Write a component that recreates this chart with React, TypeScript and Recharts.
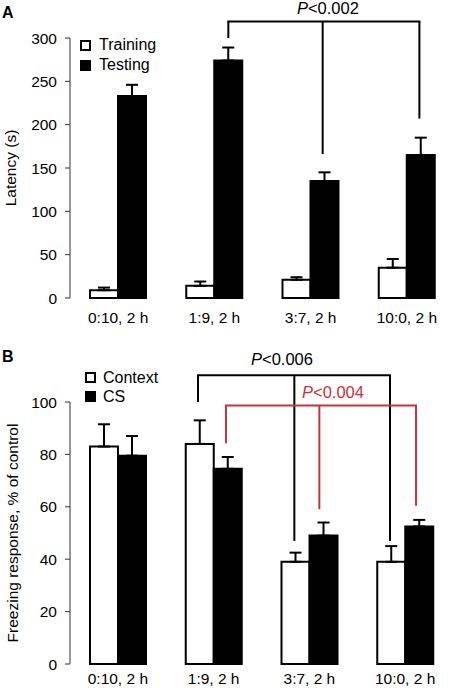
import React from 'react';
import { BarChart, Bar, XAxis, YAxis, ErrorBar, ReferenceLine, Legend } from 'recharts';

const categories = ['0:10, 2 h', '1:9, 2 h', '3:7, 2 h', '10:0, 2 h'];
const trainingValues = [9, 14, 21, 35];
const trainingErrors = [3, 5, 3, 10];
const testingValues = [233, 274, 135, 165];
const testingErrors = [13, 15, 10, 20];
const latencyTicks = [0, 50, 100, 150, 200, 250, 300];

const contextValues = [83, 84, 39, 39];
const contextErrors = [8.5, 9, 3.5, 6];
const csValues = [79.5, 74.5, 49, 52.5];
const csErrors = [7.5, 4.5, 5, 2.5];
const freezingTicks = [0, 20, 40, 60, 80, 100];

const boundaryTicks = [0, 1, 2, 3, 4];

// significance brackets, x in category units (index + fraction of band)
const bracketA = { xs: [1.645, 2.625, 3.63], ends: [300, 166, 207], y: 319, text: '<0.002', dx: 4, dy: -8, color: '#000' };
const bracketB1 = { xs: [1.337, 2.343, 3.342], ends: [100, 47, 47], y: 110.2, text: '<0.006', dx: -12, dy: -10, color: '#000' };
const bracketB2 = { xs: [1.629, 2.604, 3.614], ends: [84.2, 59.1, 60.4], y: 98.7, text: '<0.004', dx: 12, dy: -7, color: '#c8323c' };

const legendOrderA = ['Training', 'Testing'];
const legendOrderB = ['Context', 'CS'];

const FONT = '"Liberation Sans", Arial, Helvetica, sans-serif';

const dataA = categories.map((name, i) => ({
  name,
  pos: i + 0.5,
  training: trainingValues[i],
  trainingErr: [0, trainingErrors[i]],
  testing: testingValues[i],
  testingErr: [0, testingErrors[i]],
}));

const dataB = categories.map((name, i) => ({
  name,
  pos: i + 0.5,
  context: contextValues[i],
  contextErr: [0, contextErrors[i]],
  cs: csValues[i],
  csErr: [0, csErrors[i]],
}));

type Bracket = typeof bracketA;

const pLabel = (b: Bracket) => (props: any) => {
  const vb = props.viewBox || { x: 0, y: 0, width: 0 };
  return (
    <text
      x={vb.x + vb.width / 2 + b.dx}
      y={vb.y + b.dy}
      textAnchor="middle"
      fontSize={16.5}
      fill={b.color}
      fontFamily={FONT}
    >
      <tspan fontStyle="italic">P</tspan>
      {b.text}
    </text>
  );
};

const renderBracket = (b: Bracket, key: string) => {
  const first = b.xs[0];
  const last = b.xs[b.xs.length - 1];
  const items = [
    <ReferenceLine
      key={key + '-h'}
      xAxisId="n"
      ifOverflow="visible"
      segment={[{ x: first, y: b.y }, { x: last, y: b.y }]}
      stroke={b.color}
      strokeWidth={2}
      strokeLinecap="square"
      label={pLabel(b)}
    />,
  ];
  b.xs.forEach((x, i) => {
    items.push(
      <ReferenceLine
        key={key + '-v' + i}
        xAxisId="n"
        ifOverflow="visible"
        segment={[{ x, y: b.y }, { x, y: b.ends[i] }]}
        stroke={b.color}
        strokeWidth={2}
      />
    );
  });
  return items;
};

const legendContent = (order: string[], gap: number, rowH: number) => (props: any) => {
  const payload = [...(props.payload || [])].sort(
    (a: any, b: any) => order.indexOf(a.value) - order.indexOf(b.value)
  );
  return (
    <div style={{ fontFamily: FONT }}>
      {payload.map((e: any, i: number) => (
        <div key={i} style={{ display: 'flex', alignItems: 'center', height: rowH }}>
          <span
            style={{
              display: 'inline-block',
              width: 11,
              height: 11,
              boxSizing: 'border-box',
              border: '2px solid #000',
              background: e.color || (e.payload && e.payload.fill),
            }}
          />
          <span style={{ marginLeft: gap, fontSize: 16, color: '#000' }}>{e.value}</span>
        </div>
      ))}
    </div>
  );
};

const tickStyle = { fontSize: 15.5, fill: '#000', fontFamily: FONT };
const AXIS = '#333';
const blank = () => '';

export default function App() {
  return (
    <div style={{ position: 'absolute', left: 0, top: 0, width: 456, height: 688, background: '#fff', fontFamily: FONT }}>
      <div style={{ position: 'absolute', left: 2, top: 5, fontSize: 16, fontWeight: 'bold', lineHeight: '16px' }}>A</div>
      <div style={{ position: 'absolute', left: 2, top: 349, fontSize: 16, fontWeight: 'bold', lineHeight: '16px' }}>B</div>
      <div style={{ position: 'absolute', left: 0, top: 0 }}>
        <BarChart
          width={456}
          height={330}
          data={dataA}
          margin={{ top: 38, right: 1, bottom: 2, left: 0 }}
          barGap={0}
          style={{ fontFamily: FONT }}
        >
          <XAxis
            xAxisId="n"
            dataKey="pos"
            type="number"
            domain={[0, 4]}
            ticks={boundaryTicks}
            tickFormatter={blank}
            tickSize={6}
            height={0}
            stroke={AXIS}
            allowDataOverflow
          />
          <XAxis
            xAxisId="c"
            dataKey="name"
            axisLine={false}
            tickLine={false}
            tickSize={6}
            tickMargin={8}
            height={30}
            interval={0}
            tick={tickStyle}
          />
          <YAxis
            domain={[0, 300]}
            ticks={latencyTicks}
            width={70}
            tickSize={5}
            tickMargin={8}
            tick={tickStyle}
            stroke={AXIS}
            interval={0}
            label={{
              value: 'Latency (s)',
              angle: -90,
              position: 'insideLeft',
              offset: 10,
              style: { textAnchor: 'middle', fontSize: 15.5, fill: '#000', fontFamily: FONT },
            }}
          />
          <Legend
            layout="vertical"
            align="center"
            verticalAlign="middle"
            content={legendContent(legendOrderA, 8, 20)}
            wrapperStyle={{ left: 80, top: 35, width: 'auto', height: 'auto' }}
          />
          <Bar xAxisId="c" dataKey="training" name="Training" fill="#fff" stroke="#000" strokeWidth={2} barSize={28} isAnimationActive={false}>
            <ErrorBar dataKey="trainingErr" width={6} stroke="#000" strokeWidth={2} direction="y" isAnimationActive={false} />
          </Bar>
          <Bar xAxisId="c" dataKey="testing" name="Testing" fill="#000" stroke="#000" strokeWidth={2} barSize={28} isAnimationActive={false}>
            <ErrorBar dataKey="testingErr" width={6} stroke="#000" strokeWidth={2} direction="y" isAnimationActive={false} />
          </Bar>
          {renderBracket(bracketA, 'a')}
        </BarChart>
      </div>
      <div style={{ position: 'absolute', left: 0, top: 330 }}>
        <BarChart
          width={456}
          height={358}
          data={dataB}
          margin={{ top: 72, right: 3, bottom: 2, left: 0 }}
          barGap={0}
          style={{ fontFamily: FONT }}
        >
          <XAxis
            xAxisId="n"
            dataKey="pos"
            type="number"
            domain={[0, 4]}
            ticks={boundaryTicks}
            tickFormatter={blank}
            tickSize={6}
            height={0}
            stroke={AXIS}
            allowDataOverflow
          />
          <XAxis
            xAxisId="c"
            dataKey="name"
            axisLine={false}
            tickLine={false}
            tickSize={6}
            tickMargin={3}
            height={22}
            interval={0}
            tick={tickStyle}
          />
          <YAxis
            domain={[0, 100]}
            ticks={freezingTicks}
            width={70}
            tickSize={5}
            tickMargin={8}
            tick={tickStyle}
            stroke={AXIS}
            interval={0}
            label={{
              value: 'Freezing response, % of control',
              angle: -90,
              position: 'insideLeft',
              offset: 12,
              style: { textAnchor: 'middle', fontSize: 15.5, fill: '#000', fontFamily: FONT },
            }}
          />
          <Legend
            layout="vertical"
            align="center"
            verticalAlign="middle"
            content={legendContent(legendOrderB, 7, 19)}
            wrapperStyle={{ left: 85, top: 38, width: 'auto', height: 'auto' }}
          />
          <Bar xAxisId="c" dataKey="context" name="Context" fill="#fff" stroke="#000" strokeWidth={2} barSize={28} isAnimationActive={false}>
            <ErrorBar dataKey="contextErr" width={6} stroke="#000" strokeWidth={2} direction="y" isAnimationActive={false} />
          </Bar>
          <Bar xAxisId="c" dataKey="cs" name="CS" fill="#000" stroke="#000" strokeWidth={2} barSize={28} isAnimationActive={false}>
            <ErrorBar dataKey="csErr" width={6} stroke="#000" strokeWidth={2} direction="y" isAnimationActive={false} />
          </Bar>
          {renderBracket(bracketB1, 'b1')}
          {renderBracket(bracketB2, 'b2')}
        </BarChart>
      </div>
    </div>
  );
}
